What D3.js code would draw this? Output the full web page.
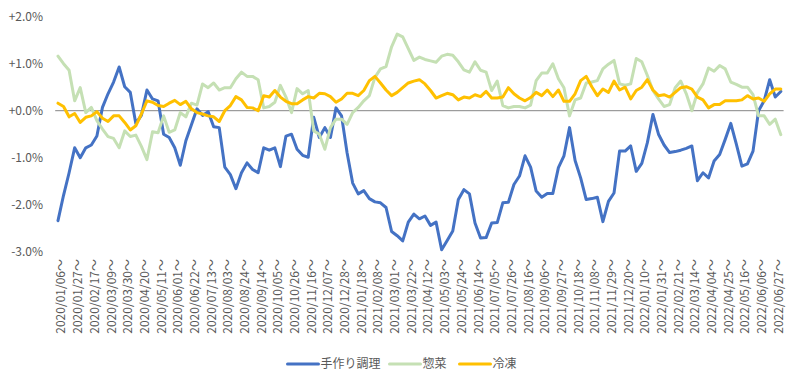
<!DOCTYPE html>
<html lang="ja">
<head>
<meta charset="UTF-8">
<title>週次推移</title>
<script src="https://cdnjs.cloudflare.com/ajax/libs/d3/7.8.5/d3.min.js"></script>
<style>
  body { margin: 0; background: #fff; }
  svg text { font-family: "Noto Sans CJK JP", "Noto Sans", sans-serif; font-size: 12px; fill: #595959; }
</style>
</head>
<body>
<svg id="chart" width="800" height="385"></svg>
<script>
    // weekly categories, 2020/01/06 .. 2022/07/04
    const firstWeek = new Date(2020, 0, 6);
    const weeks = d3.range(131).map(i => d3.timeDay.offset(firstWeek, i * 7));
    const labelWeeks = weeks.filter((d, i) => i % 3 === 0);

    const yTicks = [-3, -2, -1, 0, 1, 2];

    const seriesNames = ["手作り調理", "惣菜", "冷凍"];
    const seriesColors = ["#4472C4", "#C5E0B4", "#FFC000"];

    const tezukuri = [
        -2.34, -1.8, -1.32, -0.79, -1.0, -0.79, -0.73, -0.54, 0.07, 0.36,
        0.61, 0.93, 0.51, 0.39, -0.27, -0.1, 0.44, 0.25, 0.21, -0.5,
        -0.57, -0.79, -1.16, -0.64, -0.3, 0.04, -0.1, -0.02, -0.34, -0.36,
        -1.2, -1.36, -1.66, -1.32, -1.11, -1.25, -1.32, -0.79, -0.84, -0.79,
        -1.19, -0.54, -0.5, -0.82, -0.95, -0.99, -0.14, -0.57, -0.36, -0.57,
        0.06, -0.11, -0.9, -1.54, -1.77, -1.7, -1.87, -1.94, -1.96, -2.06,
        -2.57, -2.66, -2.77, -2.37, -2.2, -2.3, -2.24, -2.44, -2.37, -2.96,
        -2.76, -2.56, -1.89, -1.68, -1.77, -2.39, -2.71, -2.7, -2.39, -2.38,
        -1.96, -1.95, -1.57, -1.39, -0.96, -1.2, -1.71, -1.84, -1.76, -1.76,
        -1.21, -0.96, -0.36, -1.06, -1.43, -1.89, -1.87, -1.84, -2.36, -1.93,
        -1.75, -0.86, -0.86, -0.75, -1.29, -1.12, -0.68, -0.08, -0.5, -0.73,
        -0.89, -0.87, -0.84, -0.8, -0.75, -1.49, -1.32, -1.43, -1.07, -0.93,
        -0.61, -0.27, -0.71, -1.18, -1.13, -0.86, 0.0, 0.21, 0.66, 0.29,
        0.41
    ];

    const souzai = [
        1.16, 1.0, 0.86, 0.21, 0.49, -0.04, 0.07, -0.21, -0.39, -0.55,
        -0.59, -0.79, -0.43, -0.55, -0.52, -0.76, -1.04, -0.45, -0.47, -0.11,
        -0.46, -0.41, -0.04, -0.13, 0.16, 0.12, 0.57, 0.49, 0.59, 0.44,
        0.49, 0.49, 0.68, 0.82, 0.73, 0.73, 0.66, 0.06, 0.09, 0.18,
        0.54, 0.29, -0.04, 0.47, 0.36, 0.43, -0.43, -0.5, -0.82, -0.36,
        -0.18, -0.18, -0.29, -0.04, 0.07, 0.21, 0.32, 0.71, 0.89, 0.94,
        1.36, 1.63, 1.57, 1.32, 1.07, 1.14, 1.09, 1.06, 1.03, 1.16,
        1.2, 1.18, 1.04, 0.87, 0.82, 1.04, 0.86, 0.82, 0.43, 0.63,
        0.11, 0.06, 0.09, 0.09, 0.06, 0.12, 0.64, 0.8, 0.8, 1.0,
        0.68, 0.49, -0.11, 0.23, 0.27, 0.59, 0.61, 0.64, 0.89, 0.99,
        1.07, 0.57, 0.54, 0.57, 1.11, 1.04, 0.75, 0.43, 0.25, 0.09,
        0.13, 0.49, 0.63, 0.36, 0.0, 0.39, 0.57, 0.91, 0.84, 0.96,
        0.89, 0.61, 0.56, 0.5, 0.5, 0.34, -0.11, -0.11, -0.29, -0.18,
        -0.51
    ];

    const reitou = [
        0.16, 0.09, -0.13, -0.06, -0.25, -0.14, -0.11, -0.02, -0.16, -0.23,
        -0.11, -0.11, -0.25, -0.41, -0.32, -0.07, 0.21, 0.18, 0.11, 0.09,
        0.16, 0.22, 0.13, 0.2, 0.04, -0.04, -0.07, -0.11, -0.13, -0.23,
        0.0, 0.11, 0.3, 0.23, 0.07, 0.06, 0.0, 0.32, 0.29, 0.43,
        0.29, 0.2, 0.15, 0.15, 0.23, 0.3, 0.27, 0.37, 0.36, 0.3,
        0.18, 0.25, 0.37, 0.37, 0.32, 0.43, 0.64, 0.73, 0.59, 0.44,
        0.32, 0.39, 0.49, 0.59, 0.63, 0.66, 0.57, 0.43, 0.27, 0.32,
        0.37, 0.34, 0.23, 0.29, 0.27, 0.34, 0.3, 0.41, 0.27, 0.27,
        0.29, 0.49, 0.36, 0.27, 0.21, 0.28, 0.39, 0.32, 0.44, 0.3,
        0.44, 0.2, 0.2, 0.36, 0.64, 0.73, 0.51, 0.32, 0.46, 0.39,
        0.63, 0.44, 0.5, 0.25, 0.43, 0.5, 0.66, 0.44, 0.32, 0.34,
        0.29, 0.39, 0.49, 0.51, 0.46, 0.29, 0.23, 0.06, 0.13, 0.13,
        0.21, 0.21, 0.21, 0.23, 0.32, 0.25, 0.27, 0.2, 0.36, 0.46,
        0.46
    ];

    const svg = d3.select("#chart");
    const fmtWeek = d3.timeFormat("%Y/%m/%d～");
    const fmtPct = d => (d >= 0 ? "+" : "-") + Math.abs(d).toFixed(1) + "%";

    const x = d3.scaleBand().domain(weeks).range([55.2, 783.6]);
    const y = d3.scaleLinear().domain([-3, 2]).range([251.7, 16.7]);
    const cx = d => x(d) + x.bandwidth() / 2;

    // y labels
    svg.append("g")
        .attr("transform", "translate(45,0)")
        .call(d3.axisLeft(y).tickValues(yTicks).tickFormat(fmtPct).tickSize(0).tickPadding(2))
        .call(g => g.select(".domain").remove())
        .call(g => g.selectAll("text").attr("fill", "#595959").style("font-size", "12px")
            .style("font-family", "\"Noto Sans CJK JP\", sans-serif"));

    // category axis line at zero
    svg.append("line")
        .attr("x1", x.range()[0]).attr("x2", x.range()[1])
        .attr("y1", y(0)).attr("y2", y(0))
        .attr("stroke", "#868686").attr("stroke-width", 1);

    // rotated week labels at the bottom
    svg.append("g")
        .selectAll("text")
        .data(labelWeeks)
        .join("text")
        .attr("transform", d => `translate(${cx(d) + 7.5},259) rotate(-90)`)
        .attr("text-anchor", "end")
        .text(d => fmtWeek(d));

    const line = d3.line()
        .x((d, i) => cx(weeks[i]))
        .y(d => y(d));

    [tezukuri, souzai, reitou].forEach((values, k) => {
        svg.append("path")
            .datum(values)
            .attr("d", line)
            .attr("fill", "none")
            .attr("stroke", seriesColors[k])
            .attr("stroke-width", 3)
            .attr("stroke-linejoin", "round")
            .attr("stroke-linecap", "round");
    });

    // legend
    const legendX = [287.5, 389.5, 459.5];
    const legend = svg.append("g").attr("transform", "translate(0,364)");
    seriesNames.forEach((name, k) => {
        legend.append("line")
            .attr("x1", legendX[k]).attr("x2", legendX[k] + 31)
            .attr("stroke", seriesColors[k]).attr("stroke-width", 3)
            .attr("stroke-linecap", "round");
        legend.append("text")
            .attr("x", legendX[k] + 33)
            .attr("dy", "0.35em")
            .text(name);
    });
</script>
</body>
</html>
